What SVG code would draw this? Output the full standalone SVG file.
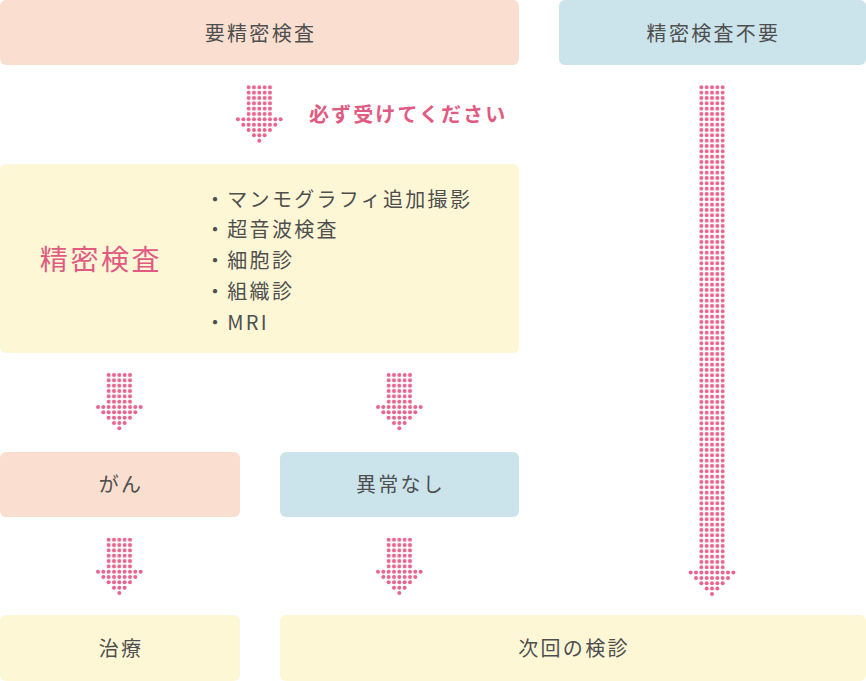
<svg xmlns="http://www.w3.org/2000/svg" xmlns:xlink="http://www.w3.org/1999/xlink" width="866" height="681" viewBox="0 0 866 681">
<style>
.peach{fill:#fadfd0}
.blue{fill:#cbe4ec}
.yellow{fill:#fef7d6}
.t{font-family:"Noto Sans CJK JP","Noto Sans",sans-serif;font-size:20px;fill:#4f4f4f;letter-spacing:2.3px}
.mid{text-anchor:middle}
.pink{fill:#e05a82}
.big{font-size:28px;letter-spacing:2.6px}
.note{font-weight:bold;font-size:20px;letter-spacing:2.1px}
.dot{fill:#e9658f}
</style>
<defs>
<pattern id="dots" patternUnits="userSpaceOnUse" x="-2.667" y="-2.667" width="5.333" height="5.333">
<circle cx="2.667" cy="2.667" r="2" class="dot"/>
</pattern>
<g id="head">
<circle cx="-21.33" cy="0" r="2" class="dot"/><circle cx="-16" cy="0" r="2" class="dot"/><circle cx="-10.67" cy="0" r="2" class="dot"/><circle cx="-5.33" cy="0" r="2" class="dot"/><circle cx="0" cy="0" r="2" class="dot"/><circle cx="5.33" cy="0" r="2" class="dot"/><circle cx="10.67" cy="0" r="2" class="dot"/><circle cx="16" cy="0" r="2" class="dot"/><circle cx="21.33" cy="0" r="2" class="dot"/>
<circle cx="-16" cy="5.33" r="2" class="dot"/><circle cx="-10.67" cy="5.33" r="2" class="dot"/><circle cx="-5.33" cy="5.33" r="2" class="dot"/><circle cx="0" cy="5.33" r="2" class="dot"/><circle cx="5.33" cy="5.33" r="2" class="dot"/><circle cx="10.67" cy="5.33" r="2" class="dot"/><circle cx="16" cy="5.33" r="2" class="dot"/>
<circle cx="-10.67" cy="10.67" r="2" class="dot"/><circle cx="-5.33" cy="10.67" r="2" class="dot"/><circle cx="0" cy="10.67" r="2" class="dot"/><circle cx="5.33" cy="10.67" r="2" class="dot"/><circle cx="10.67" cy="10.67" r="2" class="dot"/>
<circle cx="-5.33" cy="16" r="2" class="dot"/><circle cx="0" cy="16" r="2" class="dot"/><circle cx="5.33" cy="16" r="2" class="dot"/>
<circle cx="0" cy="21.33" r="2" class="dot"/>
</g>
<g id="shortArrow">
<rect x="-13.333" y="-2.667" width="26.667" height="32" fill="url(#dots)"/>
<use xlink:href="#head" y="32"/>
</g>
</defs>

<g id="node-yoseimitsu">
<rect x="0" y="0" width="519" height="65" rx="6" class="peach"/>
<text x="260.5" y="41" class="t mid">要精密検査</text>
</g>
<g id="node-fuyo">
<rect x="559" y="0" width="307" height="65" rx="6" class="blue"/>
<text x="713.5" y="41" class="t mid">精密検査不要</text>
</g>
<g id="node-seimitsu">
<rect x="0" y="164" width="519" height="189" rx="6" class="yellow"/>
<text x="101" y="269.5" class="t big pink mid">精密検査</text>
<text x="205" y="206.5" class="t">・マンモグラフィ追加撮影</text>
<text x="205" y="237.3" class="t">・超音波検査</text>
<text x="205" y="268" class="t">・細胞診</text>
<text x="205" y="298.8" class="t">・組織診</text>
<text x="205" y="329.6" class="t">・MRI</text>
</g>
<g id="node-gan">
<rect x="0" y="452" width="240" height="65" rx="6" class="peach"/>
<text x="121" y="492" class="t mid">がん</text>
</g>
<g id="node-ijounashi">
<rect x="280" y="452" width="239" height="65" rx="6" class="blue"/>
<text x="400.5" y="492" class="t mid">異常なし</text>
</g>
<g id="node-chiryo">
<rect x="0" y="615" width="240" height="66" rx="6" class="yellow"/>
<text x="121" y="656" class="t mid">治療</text>
</g>
<g id="node-jikai">
<rect x="280" y="615" width="586" height="66" rx="6" class="yellow"/>
<text x="574" y="656" class="t mid">次回の検診</text>
</g>

<g id="connectors">
<g transform="translate(259.3,87.3)"><use xlink:href="#shortArrow"/></g>
<text x="309" y="122" class="t note pink">必ず受けてください</text>
<g transform="translate(119.3,375)"><use xlink:href="#shortArrow"/></g>
<g transform="translate(399.3,375)"><use xlink:href="#shortArrow"/></g>
<g transform="translate(119.3,539.7)"><use xlink:href="#shortArrow"/></g>
<g transform="translate(399.3,539.7)"><use xlink:href="#shortArrow"/></g>
<g transform="translate(712,87.3)">
<rect x="-13.333" y="-2.667" width="26.667" height="485.3" fill="url(#dots)"/>
<use xlink:href="#head" y="485.3"/>
</g>
</g>
</svg>
